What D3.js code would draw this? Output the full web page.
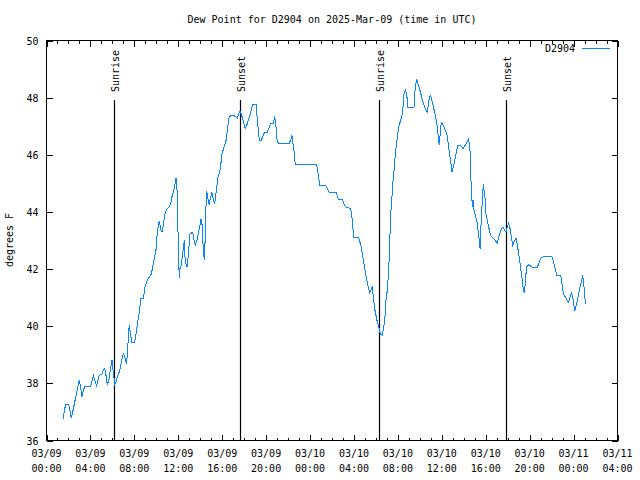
<!DOCTYPE html>
<html><head><meta charset="utf-8">
<script src="https://cdn.jsdelivr.net/npm/d3@7"></script>
<style>
body{margin:0;background:#fff}
text{font-family:"DejaVu Sans Mono","Liberation Mono",monospace;font-size:10px;fill:#000}
</style>
</head><body><svg id="chart" width="640" height="480"></svg>
<script>
const chartTitle = "Dew Point for D2904 on 2025-Mar-09 (time in UTC)";
const seriesName = "D2904";
const yAxisLabel = "degrees F";
const year = "2025";
const xDomain = ["03-09 00:00", "03-11 04:00"];
const yDomain = [36, 50];
const yTickValues = [36, 38, 40, 42, 44, 46, 48, 50];
const sunTimes = ["03-09 06:12", "03-09 17:40", "03-10 06:20", "03-10 17:53"];
const sunLabels = ["Sunrise", "Sunset", "Sunrise", "Sunset"];

const times = [
"03-09 01:32","03-09 01:39","03-09 01:46","03-09 02:01","03-09 02:08","03-09 02:15","03-09 02:23","03-09 02:34","03-09 02:45","03-09 02:56",
"03-09 02:59","03-09 03:07","03-09 03:14","03-09 03:21","03-09 03:29","03-09 04:01","03-09 04:09","03-09 04:16","03-09 04:23","03-09 04:34",
"03-09 04:41","03-09 04:48","03-09 05:03","03-09 05:10","03-09 05:18","03-09 05:25","03-09 05:32","03-09 05:40","03-09 05:47","03-09 05:54",
"03-09 05:58","03-09 06:05","03-09 06:13","03-09 06:20","03-09 06:27","03-09 06:34","03-09 06:42","03-09 06:49","03-09 06:56","03-09 07:00",
"03-09 07:07","03-09 07:14","03-09 07:18","03-09 07:21","03-09 07:25","03-09 07:29","03-09 07:32","03-09 07:36","03-09 07:47","03-09 08:02",
"03-09 08:05","03-09 08:13","03-09 08:20","03-09 08:27","03-09 08:35","03-09 08:49","03-09 09:00","03-09 09:15","03-09 09:33","03-09 09:47",
"03-09 09:58","03-09 10:05","03-09 10:16","03-09 10:27","03-09 10:31","03-09 10:38","03-09 10:46","03-09 10:49","03-09 11:00","03-09 11:11",
"03-09 11:19","03-09 11:22","03-09 11:30","03-09 11:41","03-09 11:48","03-09 11:55","03-09 11:58","03-09 12:02","03-09 12:06","03-09 12:09",
"03-09 12:17","03-09 12:24","03-09 12:33","03-09 12:38","03-09 12:49","03-09 12:57","03-09 13:04","03-09 13:19","03-09 13:30","03-09 13:34",
"03-09 13:44","03-09 13:55","03-09 14:04","03-09 14:10","03-09 14:17","03-09 14:22","03-09 14:28","03-09 14:31","03-09 14:35","03-09 14:42",
"03-09 14:49","03-09 14:57","03-09 15:04","03-09 15:11","03-09 15:19","03-09 15:30","03-09 15:37","03-09 15:48","03-09 15:55","03-09 15:59",
"03-09 16:10","03-09 16:21","03-09 16:28","03-09 16:36","03-09 16:46","03-09 17:01","03-09 17:12","03-09 17:23","03-09 17:30","03-09 17:37",
"03-09 17:44","03-09 17:55","03-09 18:06","03-09 18:17","03-09 18:28","03-09 18:39","03-09 18:47","03-09 19:05","03-09 19:09","03-09 19:16",
"03-09 19:23","03-09 19:34","03-09 19:41","03-09 19:52","03-09 20:06","03-09 20:17","03-09 20:25","03-09 20:39","03-09 20:47","03-09 20:54",
"03-09 21:01","03-09 21:09","03-09 22:07","03-09 22:14","03-09 22:21","03-09 22:32","03-09 22:39",
"03-10 00:36","03-10 00:47","03-10 00:54","03-10 01:27","03-10 01:45","03-10 02:22","03-10 02:29","03-10 02:37","03-10 02:58","03-10 03:05",
"03-10 03:16","03-10 03:42","03-10 03:49","03-10 03:53","03-10 03:58","03-10 04:24","03-10 04:38","03-10 04:49","03-10 05:04","03-10 05:18",
"03-10 05:26","03-10 05:33","03-10 05:40","03-10 05:48","03-10 05:55","03-10 06:06","03-10 06:17","03-10 06:24","03-10 06:35","03-10 06:42",
"03-10 06:47","03-10 06:55","03-10 07:02","03-10 07:10","03-10 07:17","03-10 07:21","03-10 07:28","03-10 07:32","03-10 07:39","03-10 07:46",
"03-10 07:57","03-10 08:04","03-10 08:15","03-10 08:26","03-10 08:33","03-10 08:41","03-10 08:48","03-10 08:55","03-10 09:28","03-10 09:35",
"03-10 09:43","03-10 09:50","03-10 10:01","03-10 10:12","03-10 10:23","03-10 10:34","03-10 10:41","03-10 10:52","03-10 10:59","03-10 11:10",
"03-10 11:21","03-10 11:32","03-10 11:43","03-10 11:46","03-10 11:57","03-10 12:08","03-10 12:19","03-10 12:30","03-10 12:38","03-10 12:45",
"03-10 12:56","03-10 13:03","03-10 13:14","03-10 13:28","03-10 13:43","03-10 13:57","03-10 14:12","03-10 14:27","03-10 14:34","03-10 14:38",
"03-10 14:45","03-10 14:49","03-10 14:52","03-10 14:56","03-10 15:11","03-10 15:18","03-10 15:25","03-10 15:29","03-10 15:36","03-10 15:43",
"03-10 15:47","03-10 15:51","03-10 15:58","03-10 16:01","03-10 16:09","03-10 16:16","03-10 16:27","03-10 16:38","03-10 16:52","03-10 17:03",
"03-10 17:14","03-10 17:25","03-10 17:33","03-10 17:44","03-10 17:51","03-10 17:58","03-10 18:05","03-10 18:13","03-10 18:20","03-10 18:27",
"03-10 18:38","03-10 18:45","03-10 18:52","03-10 19:00","03-10 19:07","03-10 19:14","03-10 19:22","03-10 19:25","03-10 19:33","03-10 19:36",
"03-10 19:44","03-10 19:51","03-10 20:02","03-10 20:13","03-10 20:42","03-10 20:49","03-10 20:56","03-10 21:07","03-10 21:22","03-10 22:02",
"03-10 22:09","03-10 22:17","03-10 22:28","03-10 22:50","03-10 22:57","03-10 23:04","03-10 23:15","03-10 23:26","03-10 23:33","03-10 23:40",
"03-10 23:48","03-10 23:55","03-11 00:02","03-11 00:06","03-11 00:17","03-11 00:28","03-11 00:39","03-11 00:46","03-11 00:50","03-11 00:53",
"03-11 01:01","03-11 01:04"
];

const dewPoints = [
36.77,37.11,37.25,37.25,37.05,36.79,36.99,37.34,37.69,38.04,
38.12,37.84,37.54,37.75,37.89,37.89,38.10,38.28,38.12,37.92,
38.10,38.28,38.33,38.45,38.51,38.28,37.96,38.10,38.39,38.68,
38.80,38.39,37.96,38.04,38.22,38.33,38.51,38.74,38.94,39.03,
38.94,38.74,38.70,38.98,39.38,39.79,40.03,39.85,39.43,39.43,
39.56,39.90,40.20,40.49,40.96,40.96,41.43,41.66,41.83,42.30,
42.65,43.26,43.68,43.33,43.29,43.53,43.88,44.00,44.11,44.19,
44.28,44.46,44.63,44.92,45.20,44.63,43.47,42.30,41.69,42.01,
42.15,42.53,43.00,42.24,42.07,42.65,43.23,43.29,42.88,42.85,
43.06,43.41,43.76,43.55,42.65,42.32,43.20,44.10,44.73,44.46,
44.26,44.52,44.69,44.46,44.28,44.87,45.22,45.45,45.80,46.03,
46.27,46.50,46.85,47.26,47.38,47.38,47.34,47.29,47.43,47.53,
47.43,47.20,46.91,47.08,47.32,47.55,47.77,47.77,47.43,46.97,
46.50,46.50,46.64,46.79,46.79,46.97,47.10,47.10,47.34,46.97,
46.44,46.41,46.41,46.52,46.68,46.15,45.66,
45.66,45.22,44.92,44.92,44.68,44.68,44.57,44.42,44.42,44.28,
44.17,44.12,43.82,43.58,43.12,43.12,42.83,42.42,41.83,41.37,
41.16,41.27,41.39,40.90,40.55,40.20,39.94,39.73,39.68,39.97,
40.10,40.90,41.25,41.95,43.23,43.93,44.58,44.98,45.45,46.03,
46.62,46.97,47.20,47.49,48.13,48.25,48.13,47.67,47.67,48.37,
48.66,48.48,48.25,47.96,47.73,47.55,47.49,48.01,48.07,47.78,
47.49,47.14,46.50,46.33,47.14,47.03,46.85,46.68,46.21,45.92,
45.39,45.57,45.92,46.33,46.33,46.21,46.38,46.56,46.15,45.27,
44.40,44.17,44.40,44.05,43.70,43.35,43.00,42.71,43.82,44.58,
44.96,44.75,44.40,43.93,43.70,43.47,43.18,43.09,43.00,42.92,
43.18,43.41,43.47,43.35,43.29,43.47,43.61,43.41,43.12,42.83,
43.00,43.09,42.88,42.53,42.24,41.89,41.54,41.27,41.16,41.60,
42.07,42.15,42.12,42.07,42.07,42.18,42.32,42.42,42.43,42.43,
42.30,42.07,41.78,41.76,41.48,41.13,41.02,40.90,40.84,41.02,
41.16,41.02,40.73,40.52,40.79,41.13,41.48,41.66,41.78,41.60,
41.13,40.79
];

const parseT = s => d3.utcParse("%Y-%m-%d %H:%M")(year + "-" + s);
const data = times.map((t, i) => ({ t: parseT(t), v: dewPoints[i] }));

const svg = d3.select("#chart");
const L = 46.5, R = 617.5, T = 40.5, B = 440.5;

const x = d3.scaleUtc().domain(xDomain.map(parseT)).range([L, R]);
const y = d3.scaleLinear().domain(yDomain).range([B, T]);

svg.append("rect").attr("width", 640).attr("height", 480).attr("fill", "#fff");

const hourTicks = d3.utcHour.every(1).range(x.domain()[0], new Date(+x.domain()[1] + 1));
const majorTicks = d3.utcHour.every(4).range(x.domain()[0], new Date(+x.domain()[1] + 1));

function xAxis(gen, size, yPos, vals) {
  const g = svg.append("g").attr("transform", `translate(0,${yPos})`)
    .call(gen(x).tickValues(vals).tickSizeInner(size).tickSizeOuter(0).tickPadding(0));
  g.select(".domain").remove();
  g.selectAll(".tick line").attr("stroke", "#000").attr("shape-rendering", "crispEdges");
  g.selectAll("text").remove();
  return g;
}
xAxis(d3.axisBottom, -3, B, hourTicks);
xAxis(d3.axisTop, -3, T, hourTicks);
xAxis(d3.axisBottom, -6, B, majorTicks);
xAxis(d3.axisTop, -6, T, majorTicks);

// x tick labels (two lines)
const fmtDate = d3.utcFormat("%m/%d"), fmtTime = d3.utcFormat("%H:%M");
const xl = svg.append("g");
majorTicks.forEach(d => {
  const t = xl.append("text").attr("text-anchor", "middle");
  t.append("tspan").attr("x", x(d)).attr("y", 457).text(fmtDate(d));
  t.append("tspan").attr("x", x(d)).attr("y", 472).text(fmtTime(d));
});

// y axis ticks
const gy = svg.append("g").attr("transform", `translate(${L},0)`)
  .call(d3.axisLeft(y).tickValues(yTickValues).tickSizeInner(-6).tickSizeOuter(0).tickPadding(8).tickFormat(d3.format("d")));
gy.select(".domain").remove();
gy.selectAll(".tick line").attr("stroke", "#000").attr("shape-rendering", "crispEdges");
gy.selectAll("text").attr("x", -8).attr("dy", "0.35em").attr("font-family", null).attr("font-size", null).attr("fill", "#000");
const gy2 = svg.append("g").attr("transform", `translate(${R},0)`)
  .call(d3.axisRight(y).tickValues(yTickValues).tickSizeInner(-6).tickSizeOuter(0).tickFormat(() => ""));
gy2.select(".domain").remove();
gy2.selectAll(".tick line").attr("stroke", "#000").attr("shape-rendering", "crispEdges");

// frame
svg.append("rect").attr("x", L).attr("y", T).attr("width", R - L).attr("height", B - T)
  .attr("fill", "none").attr("stroke", "#000").attr("shape-rendering", "crispEdges");

// sunrise / sunset lines
sunTimes.forEach((s, i) => {
  const sx = Math.round(x(parseT(s)) - 0.5) + 0.5;
  svg.append("line").attr("x1", sx).attr("x2", sx).attr("y1", 100).attr("y2", B)
    .attr("stroke", "#000").attr("stroke-width", 1.2);
  svg.append("text").attr("transform", `translate(${sx + 4},92) rotate(-90)`)
    .attr("text-anchor", "start").text(sunLabels[i]);
});

// data line
svg.append("path").datum(data)
  .attr("fill", "none").attr("stroke", "#0a84ff").attr("stroke-width", 1)
  .attr("shape-rendering", "crispEdges")
  .attr("d", d3.line().x(d => x(d.t)).y(d => y(d.v)));

// title
svg.append("text").attr("x", 332).attr("y", 23).attr("text-anchor", "middle").text(chartTitle);
// y label
svg.append("text").attr("transform", "translate(13,240) rotate(-90)").attr("text-anchor", "middle").text(yAxisLabel);
// legend
svg.append("text").attr("x", 575).attr("y", 52).attr("text-anchor", "end").text(seriesName);
svg.append("line").attr("x1", 582).attr("x2", 610).attr("y1", 48.5).attr("y2", 48.5)
  .attr("stroke", "#0a84ff").attr("stroke-width", 1);
</script>
</body></html>
